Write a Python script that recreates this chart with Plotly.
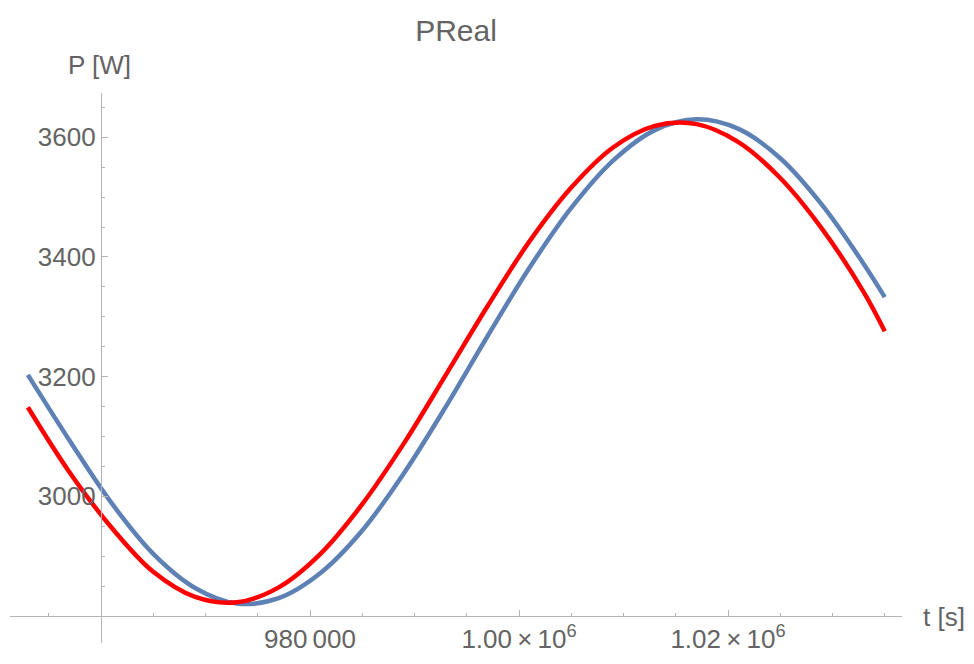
import plotly.graph_objects as go

# time samples [s]
t_values = [953000, 957000, 961000, 965000, 969000, 973000, 977000, 981000, 985000,
            989000, 993000, 997000, 1001000, 1005000, 1009000, 1013000, 1017000,
            1021000, 1025000, 1029000, 1033000, 1035000]
# blue series P [W]
p_blue = [3203, 3093, 2989, 2904, 2847, 2821, 2830, 2872, 2943, 3039, 3150, 3268,
          3382, 3482, 3561, 3612, 3630, 3614, 3565, 3487, 3388, 3333]
# red series P [W]
p_red = [3149, 3040, 2948, 2874, 2832, 2823, 2848, 2904, 2987, 3089, 3203, 3318,
         3426, 3516, 3583, 3619, 3622, 3592, 3532, 3447, 3341, 3276]

x_tickvals = [980000, 1000000, 1020000]
x_ticktext = ["980\u2009000", "1.00\u2009\u00d7\u200910<sup>6</sup>", "1.02\u2009\u00d7\u200910<sup>6</sup>"]
y_tickvals = [3000, 3200, 3400, 3600]
y_ticktext = ["3000", "3200", "3400", "3600"]

FONT = "Liberation Sans, Arial, Helvetica, sans-serif"
TXT = "#646464"
AX = "#b4b4b4"

W, H = 974, 664
ml, mr, mt, mb = 10, 72, 93, 21
pw, ph = W - ml - mr, H - mt - mb

fig = go.Figure()
fig.add_trace(go.Scatter(x=t_values, y=p_blue, mode="lines",
                         line=dict(color="#5E81B5", width=4.5, shape="spline"),
                         hoverinfo="skip"))
fig.add_trace(go.Scatter(x=t_values, y=p_red, mode="lines",
                         line=dict(color="#FF0000", width=4.5, shape="spline"),
                         hoverinfo="skip"))

x_axis_px = 101   # where y-axis crosses
y_axis_px = 616   # where x-axis crosses

fig.update_layout(
    width=W, height=H,
    margin=dict(l=ml, r=mr, t=mt, b=mb, pad=0),
    paper_bgcolor="white", plot_bgcolor="white",
    showlegend=False,
    font=dict(family=FONT, size=26, color=TXT),
    title=dict(text="PReal", x=0.5, xref="paper", xanchor="center",
               y=1 - 30 / H, yref="container", yanchor="middle",
               font=dict(family=FONT, size=30, color=TXT)),
    xaxis=dict(range=[951290, 1036650], showgrid=False, zeroline=False,
               showline=True, linecolor=AX, linewidth=1.3,
               anchor="free", position=(H - mb - y_axis_px) / ph,
               tickmode="array", tickvals=x_tickvals, ticktext=x_ticktext,
               ticks="inside", ticklen=6, tickwidth=1, tickcolor=AX,
               tickfont=dict(family=FONT, size=26, color=TXT),
               minor=dict(dtick=5000, tick0=950000, ticks="inside", ticklen=3,
                          tickcolor=AX, showgrid=False)),
    yaxis=dict(range=[2755, 3674], showgrid=False, zeroline=False,
               showline=True, linecolor=AX, linewidth=1.3,
               anchor="free", position=(x_axis_px - ml) / pw,
               tickmode="array", tickvals=y_tickvals, ticktext=y_ticktext,
               ticks="inside", ticklen=6, tickwidth=1, tickcolor=AX,
               tickfont=dict(family=FONT, size=26, color=TXT),
               minor=dict(dtick=50, tick0=2800, ticks="inside", ticklen=3,
                          tickcolor=AX, showgrid=False)),
    annotations=[
        dict(text="P [W]", xref="paper", yref="paper",
             x=(99 - ml) / pw, y=(H - mb - 65) / ph, xanchor="center", yanchor="middle",
             showarrow=False, font=dict(family=FONT, size=26, color=TXT)),
        dict(text="t [s]", xref="paper", yref="paper",
             x=(944 - ml) / pw, y=(H - mb - 617) / ph, xanchor="center", yanchor="middle",
             showarrow=False, font=dict(family=FONT, size=26, color=TXT)),
    ],
)

fig.write_html("out.html")
